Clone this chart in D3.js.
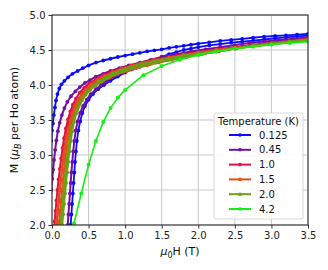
<!DOCTYPE html>
<html lang="en">
<head>
<meta charset="UTF-8">
<title>M vs H</title>
<style>
  body { margin: 0; background: #fff; }
  svg { font-family: "DejaVu Sans", sans-serif; }
  .grid line { stroke: #c8c8c8; stroke-width: 1; }
</style>
</head>
<body>
<script src="https://cdn.jsdelivr.net/npm/d3@7"></script>
<script>
const W = 328, H = 270;
const margin = {left: 52, right: 20, top: 15, bottom: 45};

const temps = ["0.125", "0.45", "1.0", "1.5", "2.0", "4.2"];
const colors = ["#0a0aff", "#7010a8", "#e01048", "#e05018", "#6e9e12", "#12f012"];

const xTicks = [0, 0.5, 1, 1.5, 2, 2.5, 3, 3.5];
const yTicks = [2, 2.5, 3, 3.5, 4, 4.5, 5];

// [H (T), M (muB)] pairs; each loop has a down sweep and an up sweep
const blueDown = [[3.5,4.73],[3.35,4.72],[3.2,4.71],[3.05,4.70],[2.9,4.69],[2.75,4.675],[2.6,4.66],[2.45,4.645],[2.3,4.63],[2.15,4.61],[2.0,4.59],[1.9,4.575],[1.8,4.56],[1.7,4.545],[1.6,4.53],[1.5,4.51],[1.4,4.495],[1.3,4.48],[1.2,4.46],[1.1,4.44],[1.0,4.42],[0.9,4.40],[0.8,4.375],[0.7,4.35],[0.6,4.32],[0.5,4.28],[0.42,4.24],[0.35,4.2],[0.28,4.16],[0.22,4.11],[0.17,4.06],[0.13,4.01],[0.1,3.95],[0.075,3.87],[0.055,3.78],[0.04,3.68],[0.025,3.57],[0.012,3.45],[0.0,3.35],[-0.01,3.2]];
const blueUp = [[0.24,1.9],[0.255,2.0],[0.265,2.15],[0.275,2.3],[0.285,2.45],[0.295,2.6],[0.305,2.75],[0.315,2.9],[0.327,3.05],[0.34,3.2],[0.36,3.35],[0.385,3.48],[0.415,3.6],[0.45,3.7],[0.5,3.79],[0.56,3.87],[0.63,3.94],[0.71,4.0],[0.8,4.06],[0.9,4.12],[1.0,4.18],[1.1,4.23],[1.2,4.28],[1.3,4.32],[1.4,4.36],[1.5,4.40],[1.6,4.44],[1.7,4.47],[1.8,4.50],[1.9,4.52],[2.0,4.54],[2.15,4.565],[2.3,4.585],[2.45,4.605],[2.6,4.62],[2.75,4.635],[2.9,4.65],[3.05,4.665],[3.2,4.68],[3.35,4.695],[3.5,4.705]];

const purpleDown = [[3.5,4.68],[3.3,4.66],[3.1,4.64],[2.9,4.62],[2.7,4.6],[2.5,4.57],[2.3,4.54],[2.1,4.51],[1.9,4.48],[1.7,4.44],[1.5,4.40],[1.35,4.36],[1.2,4.32],[1.05,4.28],[0.92,4.24],[0.8,4.2],[0.7,4.16],[0.6,4.12],[0.52,4.07],[0.45,4.03],[0.38,3.97],[0.32,3.91],[0.26,3.84],[0.21,3.76],[0.17,3.67],[0.135,3.57],[0.105,3.46],[0.08,3.34],[0.06,3.21],[0.043,3.07],[0.028,2.93],[0.015,2.79],[0.004,2.66],[-0.01,2.5]];
const purpleUp = [[0.2,1.9],[0.215,2.0],[0.225,2.15],[0.235,2.3],[0.245,2.45],[0.255,2.6],[0.265,2.75],[0.277,2.9],[0.29,3.05],[0.305,3.2],[0.325,3.35],[0.35,3.48],[0.385,3.6],[0.425,3.7],[0.475,3.79],[0.53,3.87],[0.6,3.94],[0.67,4.0],[0.75,4.06],[0.85,4.12],[0.96,4.17],[1.08,4.22],[1.2,4.26],[1.34,4.3],[1.5,4.34],[1.68,4.39],[1.88,4.43],[2.1,4.47],[2.35,4.51],[2.6,4.55],[2.85,4.58],[3.1,4.61],[3.3,4.64],[3.5,4.66]];

const redDown = [[3.5,4.66],[3.25,4.63],[3.0,4.60],[2.75,4.57],[2.5,4.54],[2.25,4.51],[2.0,4.47],[1.8,4.44],[1.6,4.40],[1.4,4.36],[1.22,4.32],[1.08,4.28],[0.95,4.24],[0.82,4.19],[0.7,4.14],[0.6,4.08],[0.51,4.02],[0.44,3.96],[0.38,3.89],[0.33,3.81],[0.285,3.72],[0.25,3.62],[0.22,3.51],[0.19,3.38],[0.165,3.24],[0.145,3.1],[0.125,2.95],[0.107,2.8],[0.09,2.65],[0.075,2.5],[0.061,2.35],[0.048,2.2],[0.036,2.05],[0.025,1.9]];
const redUp = [[0.06,1.9],[0.07,2.05],[0.082,2.2],[0.095,2.35],[0.108,2.5],[0.122,2.65],[0.137,2.8],[0.153,2.95],[0.17,3.1],[0.19,3.24],[0.212,3.38],[0.238,3.5],[0.27,3.61],[0.31,3.71],[0.36,3.8],[0.42,3.89],[0.49,3.96],[0.57,4.02],[0.66,4.08],[0.76,4.13],[0.87,4.18],[0.99,4.22],[1.12,4.26],[1.27,4.3],[1.44,4.34],[1.62,4.38],[1.82,4.42],[2.04,4.46],[2.28,4.5],[2.52,4.54],[2.76,4.57],[3.0,4.60],[3.25,4.63],[3.5,4.66]];

const orangeDown = [[3.5,4.65],[3.25,4.62],[3.0,4.59],[2.75,4.56],[2.5,4.53],[2.25,4.50],[2.0,4.46],[1.8,4.43],[1.6,4.39],[1.4,4.35],[1.22,4.31],[1.08,4.27],[0.95,4.23],[0.83,4.18],[0.72,4.13],[0.62,4.07],[0.54,4.01],[0.47,3.94],[0.41,3.87],[0.36,3.79],[0.315,3.7],[0.28,3.6],[0.25,3.49],[0.222,3.37],[0.197,3.24],[0.175,3.1],[0.155,2.95],[0.137,2.8],[0.12,2.65],[0.104,2.5],[0.089,2.35],[0.075,2.2],[0.062,2.05],[0.052,1.9]];
const orangeUp = [[0.09,1.9],[0.1,2.05],[0.112,2.2],[0.125,2.35],[0.138,2.5],[0.152,2.65],[0.167,2.8],[0.183,2.95],[0.2,3.1],[0.22,3.24],[0.243,3.37],[0.27,3.49],[0.3,3.6],[0.34,3.7],[0.39,3.79],[0.45,3.87],[0.52,3.94],[0.6,4.0],[0.69,4.06],[0.79,4.11],[0.9,4.16],[1.02,4.2],[1.15,4.24],[1.3,4.28],[1.46,4.32],[1.64,4.36],[1.84,4.4],[2.05,4.44],[2.28,4.48],[2.52,4.52],[2.76,4.56],[3.0,4.59],[3.25,4.62],[3.5,4.65]];

const oliveDown = [[3.5,4.65],[3.25,4.62],[3.0,4.59],[2.75,4.56],[2.5,4.52],[2.25,4.49],[2.0,4.45],[1.8,4.42],[1.6,4.38],[1.4,4.34],[1.22,4.30],[1.08,4.26],[0.95,4.21],[0.83,4.16],[0.73,4.11],[0.64,4.05],[0.56,3.98],[0.49,3.91],[0.43,3.83],[0.38,3.74],[0.34,3.64],[0.305,3.53],[0.275,3.41],[0.25,3.28],[0.23,3.14],[0.212,3.0],[0.196,2.85],[0.181,2.7],[0.167,2.55],[0.153,2.4],[0.14,2.25],[0.128,2.1],[0.117,1.95],[0.11,1.85]];
const oliveUp = [[0.13,1.85],[0.14,2.0],[0.152,2.15],[0.165,2.3],[0.178,2.45],[0.192,2.6],[0.206,2.75],[0.221,2.9],[0.237,3.05],[0.255,3.2],[0.276,3.34],[0.3,3.47],[0.33,3.59],[0.365,3.69],[0.41,3.78],[0.46,3.86],[0.52,3.93],[0.59,3.99],[0.67,4.05],[0.76,4.1],[0.86,4.15],[0.97,4.19],[1.1,4.24],[1.25,4.28],[1.42,4.32],[1.6,4.36],[1.8,4.4],[2.02,4.44],[2.25,4.48],[2.5,4.52],[2.75,4.55],[3.0,4.58],[3.25,4.61],[3.5,4.64]];

const green = [[0.27,1.88],[0.3,2.02],[0.4,2.45],[0.5,2.86],[0.6,3.2],[0.7,3.47],[0.8,3.67],[0.9,3.82],[1.0,3.93],[1.25,4.14],[1.5,4.27],[1.75,4.36],[2.0,4.43],[2.25,4.48],[2.5,4.52],[2.75,4.55],[3.0,4.58],[3.25,4.6],[3.5,4.62]];

const series = [
  {t: temps[0], c: colors[0], branches: [blueDown, blueUp], w: 1.8, r: 1.9},
  {t: temps[1], c: colors[1], branches: [purpleDown, purpleUp], w: 2, r: 1.9},
  {t: temps[2], c: colors[2], branches: [redDown, redUp], w: 2, r: 1.9},
  {t: temps[3], c: colors[3], branches: [orangeDown, orangeUp], w: 2, r: 1.9},
  {t: temps[4], c: colors[4], branches: [oliveDown, oliveUp], w: 2, r: 1.9},
  {t: temps[5], c: colors[5], branches: [green], w: 1.6, r: 2}
];

const svg = d3.select("body").append("svg")
  .attr("width", W).attr("height", H);
svg.append("rect").attr("width", W).attr("height", H).attr("fill", "#fff");

const x = d3.scaleLinear().domain([0, 3.5]).range([margin.left, W - margin.right]);
const y = d3.scaleLinear().domain([2, 5]).range([H - margin.bottom, margin.top]);

// grid
svg.append("g").attr("class", "grid")
  .selectAll("line").data(xTicks).join("line")
  .attr("x1", d => x(d)).attr("x2", d => x(d))
  .attr("y1", y(2)).attr("y2", y(5));
svg.append("g").attr("class", "grid")
  .selectAll("line").data(yTicks).join("line")
  .attr("x1", x(0)).attr("x2", x(3.5))
  .attr("y1", d => y(d)).attr("y2", d => y(d));

svg.append("clipPath").attr("id", "clip")
  .append("rect").attr("x", x(0)).attr("y", y(5))
  .attr("width", x(3.5) - x(0)).attr("height", y(2) - y(5));

const plot = svg.append("g").attr("clip-path", "url(#clip)");
const line = d3.line().x(d => x(d[0])).y(d => y(d[1]));

series.forEach(s => {
  s.branches.forEach(b => {
    plot.append("path").datum(b)
      .attr("d", line).attr("fill", "none")
      .attr("stroke", s.c).attr("stroke-width", s.w)
      .attr("stroke-linejoin", "round");
    plot.append("g").selectAll("circle").data(b).join("circle")
      .attr("cx", d => x(d[0])).attr("cy", d => y(d[1]))
      .attr("r", s.r).attr("fill", s.c);
  });
});

// axes
const xAxis = svg.append("g").attr("transform", `translate(0,${y(2)})`)
  .call(d3.axisBottom(x).tickValues(xTicks).tickFormat(d3.format(".1f")).tickSize(3.5).tickPadding(3));
const yAxis = svg.append("g").attr("transform", `translate(${x(0)},0)`)
  .call(d3.axisLeft(y).tickValues(yTicks).tickFormat(d3.format(".1f")).tickSize(3.5).tickPadding(3));
[xAxis, yAxis].forEach(a => {
  a.select(".domain").remove();
  a.selectAll(".tick line").attr("stroke", "#333");
  a.selectAll(".tick text").attr("font-family", "DejaVu Sans").attr("font-size", 10).attr("fill", "#222");
});

svg.append("rect")
  .attr("x", x(0)).attr("y", y(5))
  .attr("width", x(3.5) - x(0)).attr("height", y(2) - y(5))
  .attr("fill", "none").attr("stroke", "#222").attr("stroke-width", 1);

// axis labels
const xl = svg.append("text")
  .attr("x", (x(0) + x(3.5)) / 2).attr("y", 255)
  .attr("text-anchor", "middle").attr("font-size", 11).attr("fill", "#111");
xl.append("tspan").attr("font-style", "italic").text("μ");
xl.append("tspan").attr("font-size", 8).attr("dy", 2.5).text("0");
xl.append("tspan").attr("dy", -2.5).text("H (T)");

const yl = svg.append("text")
  .attr("transform", `translate(18,${(y(2) + y(5)) / 2}) rotate(-90)`)
  .attr("text-anchor", "middle").attr("font-size", 11).attr("fill", "#111");
yl.append("tspan").text("M (");
yl.append("tspan").attr("font-style", "italic").text("μ");
yl.append("tspan").attr("font-size", 8).attr("font-style", "italic").attr("dy", 2.5).text("B");
yl.append("tspan").attr("dy", -2.5).text(" per Ho atom)");

// legend
const lg = svg.append("g").attr("transform", "translate(214,113)");
lg.append("rect").attr("width", 89).attr("height", 106).attr("rx", 2)
  .attr("fill", "#fff").attr("fill-opacity", 0.9)
  .attr("stroke", "#d0d0d0").attr("stroke-width", 0.8);
lg.append("text").attr("x", 44.5).attr("y", 12).attr("text-anchor", "middle")
  .attr("font-size", 10).attr("fill", "#111").text("Temperature (K)");
const items = lg.selectAll("g.item").data(series).join("g")
  .attr("class", "item")
  .attr("transform", (d, i) => `translate(0,${22 + i * 14.8})`);
items.append("line").attr("x1", 15).attr("x2", 37)
  .attr("stroke", d => d.c).attr("stroke-width", 2);
items.append("circle").attr("cx", 26).attr("r", 1.8).attr("fill", d => d.c);
items.append("text").attr("x", 45).attr("y", 3.6)
  .attr("font-size", 10).attr("fill", "#111").text(d => d.t);
</script>
</body>
</html>
